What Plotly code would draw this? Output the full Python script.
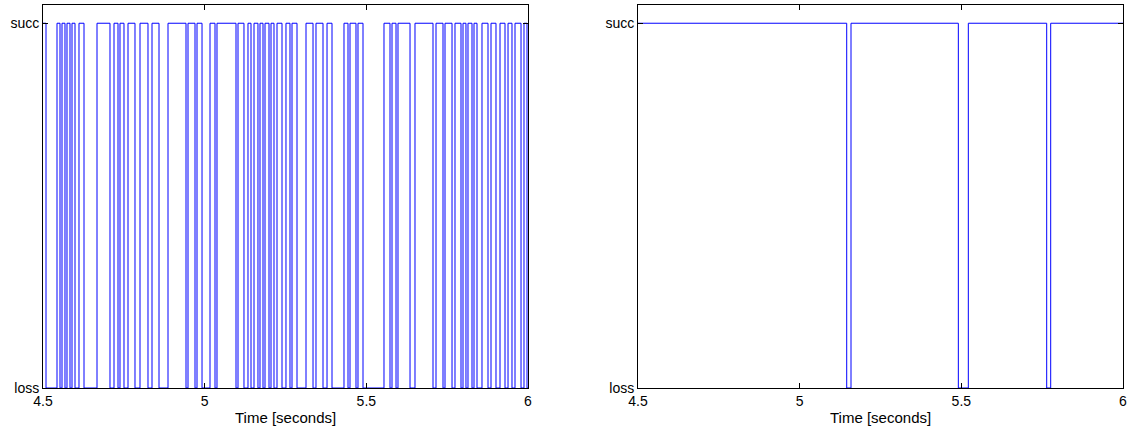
import plotly.graph_objects as go

# ---- data (seconds) ----
left_succ_start = [4.5000, 4.5433, 4.5588, 4.5742, 4.5897, 4.6113, 4.6670, 4.7196, 4.7381, 4.7629,
                   4.8000, 4.8371, 4.8866, 4.9485, 4.9763, 5.0165, 5.0381, 5.1031, 5.1340, 5.1526,
                   5.1711, 5.1866, 5.2052, 5.2237, 5.2515, 5.2701, 5.3134, 5.3443, 5.3784, 5.4309,
                   5.4495, 5.4742, 5.5546, 5.5794, 5.5979, 5.6505, 5.7155, 5.7433, 5.7742, 5.7990,
                   5.8144, 5.8330, 5.8577, 5.8856, 5.9134, 5.9382, 5.9598, 5.9876]
left_succ_end = [4.5093, 4.5526, 4.5680, 4.5835, 4.5990, 4.6268, 4.7072, 4.7320, 4.7505, 4.7845,
                 4.8247, 4.8588, 4.9423, 4.9701, 4.9918, 5.0320, 5.0969, 5.1216, 5.1433, 5.1649,
                 5.1804, 5.1990, 5.2144, 5.2392, 5.2639, 5.2856, 5.3351, 5.3660, 5.3938, 5.4433,
                 5.4680, 5.4897, 5.5732, 5.5918, 5.6351, 5.7062, 5.7371, 5.7650, 5.7928, 5.8082,
                 5.8268, 5.8423, 5.8763, 5.9010, 5.9289, 5.9505, 5.9784, 5.9969]

right_succ_start = [4.5000, 5.1588, 5.5216, 5.7764]
right_succ_end = [5.1455, 5.4907, 5.7640, 6.0000]

x_ticks = [4.5, 5, 5.5, 6]
x_tick_labels = ["4.5", "5", "5.5", "6"]
y_ticks = [0, 1]
y_tick_labels = ["loss", "succ"]
x_title = "Time [seconds]"


def steps(starts, ends, t0, t1):
    t, s = [], []
    cur = t0
    for a, b in zip(starts, ends):
        if a > cur:
            t.append(cur); s.append(0)
        t.append(a); s.append(1)
        cur = b
    if cur < t1:
        t.append(cur); s.append(0)
    t.append(t1); s.append(s[-1])
    return t, s


lt, ls = steps(left_succ_start, left_succ_end, 4.5, 6.0)
rt, rs = steps(right_succ_start, right_succ_end, 4.5, 6.0)

FONT = "Liberation Sans, Arial, Helvetica, sans-serif"
FS = 14
W, H = 1128, 429
fig = go.Figure()
fig.add_trace(go.Scatter(x=lt, y=ls, mode="lines", line=dict(color="#0000ff", width=1, shape="hv"),
                         xaxis="x", yaxis="y", showlegend=False, hoverinfo="skip"))
fig.add_trace(go.Scatter(x=rt, y=rs, mode="lines", line=dict(color="#0000ff", width=1, shape="hv"),
                         xaxis="x2", yaxis="y2", showlegend=False, hoverinfo="skip"))

ax_common = dict(showline=True, linecolor="black", linewidth=1, mirror="ticks", ticks="inside",
                 ticklen=5, tickcolor="black", tickwidth=1, showgrid=False, zeroline=False,
                 tickfont=dict(family=FONT, size=FS, color="black"), automargin=False)

dom_l = [43 / W, 528 / W]
dom_r = [638 / W, 1123 / W]
fig.update_layout(
    width=W, height=H, paper_bgcolor="white", plot_bgcolor="white",
    margin=dict(l=0, r=0, t=5, b=41),
    xaxis=dict(domain=dom_l, range=[4.5, 6], tickvals=x_ticks, ticktext=x_tick_labels, anchor="y",
               ticklabelstandoff=0, **ax_common),
    yaxis=dict(domain=[0, 1], range=[0, 1.05], tickvals=y_ticks, ticktext=y_tick_labels, anchor="x", **ax_common),
    xaxis2=dict(domain=dom_r, range=[4.5, 6], tickvals=x_ticks, ticktext=x_tick_labels, anchor="y2",
                ticklabelstandoff=0, **ax_common),
    yaxis2=dict(domain=[0, 1], range=[0, 1.05], tickvals=y_ticks, ticktext=y_tick_labels, anchor="x2", **ax_common),
    annotations=[
        dict(text=x_title, xref="paper", yref="paper", x=(dom_l[0] + dom_l[1]) / 2, y=0, yshift=-29,
             xanchor="center", yanchor="middle", showarrow=False, font=dict(family=FONT, size=15, color="black")),
        dict(text=x_title, xref="paper", yref="paper", x=(dom_r[0] + dom_r[1]) / 2, y=0, yshift=-29,
             xanchor="center", yanchor="middle", showarrow=False, font=dict(family=FONT, size=15, color="black")),
    ],
)
fig.write_html("out.html")
